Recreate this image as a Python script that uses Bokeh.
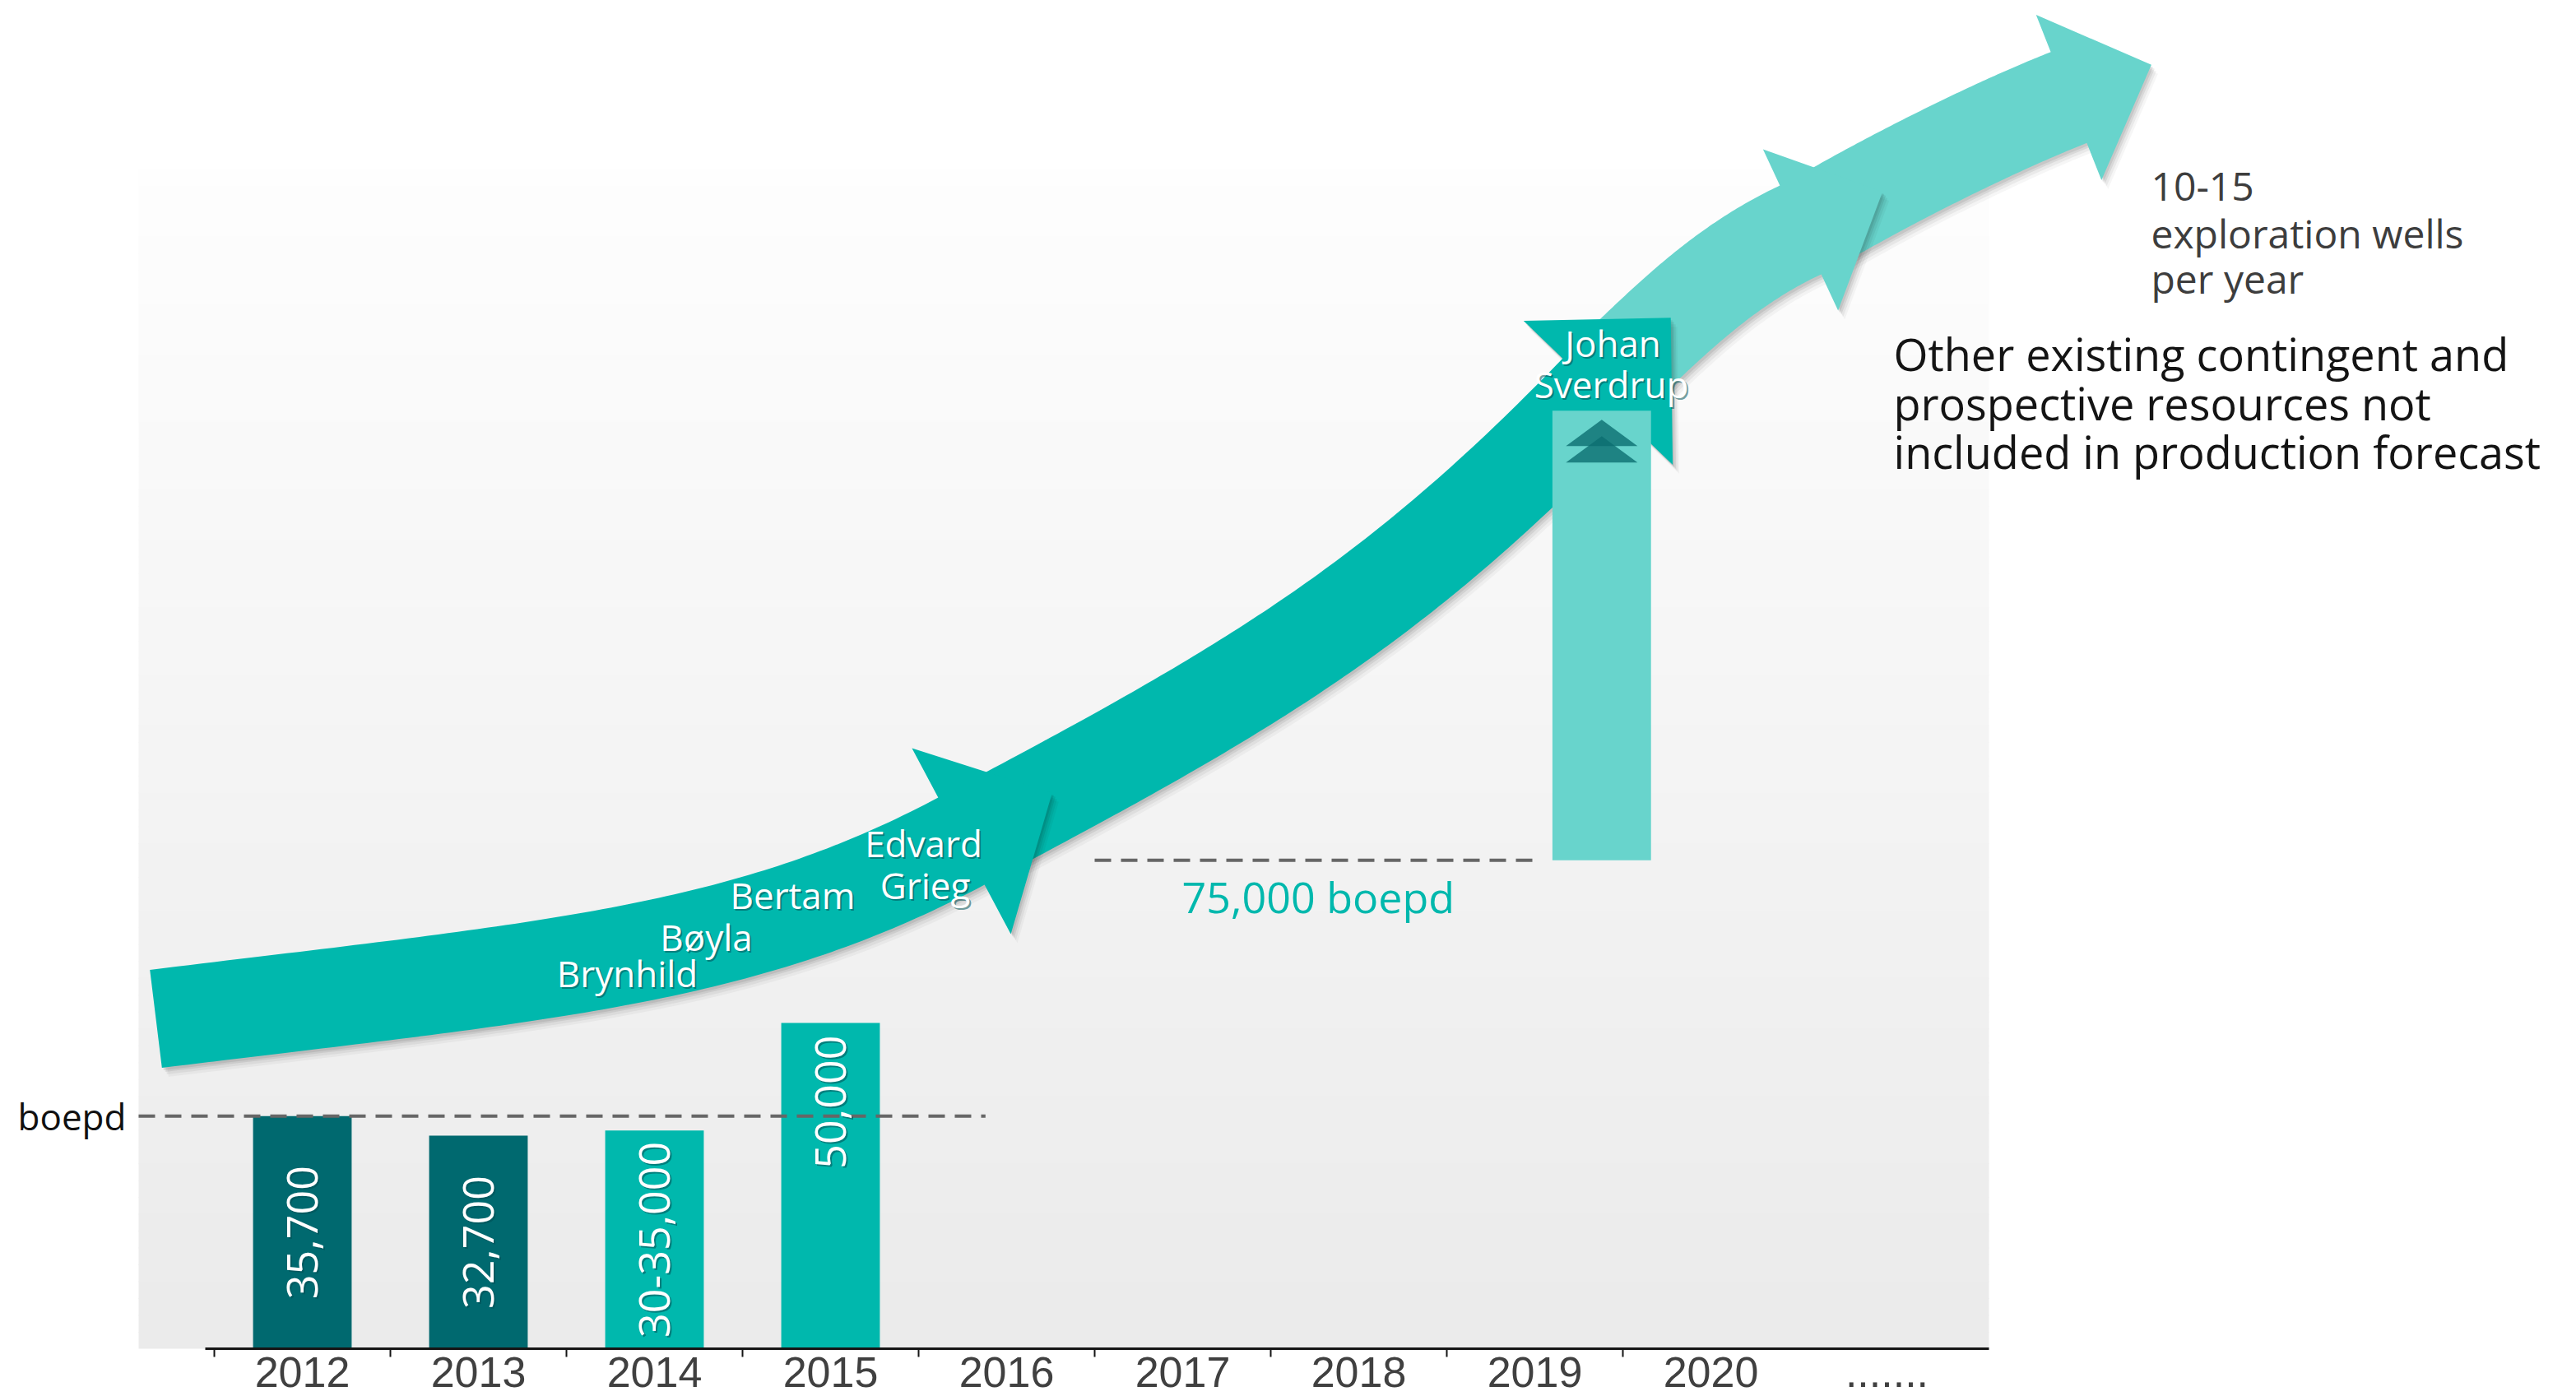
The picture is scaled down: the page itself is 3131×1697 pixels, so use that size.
import math
import numpy as np
from bokeh.plotting import figure
from bokeh.models import Range1d, LinearAxis, FixedTicker
from bokeh.core.properties import value
from bokeh.embed import file_html
from bokeh.resources import INLINE

# ------------------------------------------------------------------ data
tick_years = [2012, 2013, 2014, 2015, 2016, 2017, 2018, 2019, 2020, 2021]
tick_labels = ["2012", "2013", "2014", "2015", "2016", "2017", "2018", "2019", "2020", "......."]

bar_years = [2012, 2013, 2014, 2015]
bar_values = [35700, 32700, 33500, 50000]
bar_labels = ["35,700", "32,700", "30-35,000", "50,000"]
bar_status = ["actual", "actual", "guidance", "guidance"]

plateau_value = 75000
plateau_label = "75,000 boepd"
sverdrup_year = 2019
sverdrup_top = 144000

field_labels = ["Brynhild", "Bøyla", "Bertam", "Edvard", "Grieg"]
sverdrup_label = ["Johan", "Sverdrup"]
unit_label = "boepd"
wells_lines = ["10-15", "exploration wells", "per year"]
resource_lines = ["Other existing contingent and",
                  "prospective resources not",
                  "included in production forecast"]

# ------------------------------------------------------------------ layout / style
W, H = 3131, 1697
AXIS_PANEL = 58
FH = H - AXIS_PANEL        # canvas units spanning the frame height
X0_PX, SLOT_PX = 367, 214  # pixel of 2012 slot centre, slot width
Y_TOP = 207000

TEAL = "#00B8AD"
DARK = "#00696F"
LIGHT = "#68D4CC"
SHADOW = "#004F53"
DASH = "#666666"
FONT = "Open Sans"


def cx(x):
    return X0_PX + SLOT_PX * (x - 2012)


def cy(y):
    return FH - y * FH / Y_TOP


def ypx(px):  # pixel distance -> data units
    return px * Y_TOP / FH


def xpx(px):
    return px / SLOT_PX


x_start = 2012 - X0_PX / SLOT_PX
x_end = 2012 + (W - X0_PX) / SLOT_PX

p = figure(width=W, height=H, x_range=Range1d(x_start, x_end), y_range=Range1d(0, Y_TOP),
           x_axis_type=None, y_axis_type=None, toolbar_location=None, output_backend="svg",
           min_border=0, min_border_bottom=AXIS_PANEL, outline_line_color=None,
           background_fill_color="white", border_fill_color="white")
p.extra_x_ranges = {"cx": Range1d(0, W)}
p.extra_y_ranges = {"cy": Range1d(FH, 0)}
CV = dict(x_range_name="cx", y_range_name="cy")

# ---- x axis
ax = LinearAxis(ticker=FixedTicker(ticks=tick_years,
                                   minor_ticks=[y - 0.5 for y in tick_years[:-1]]))
ax.major_label_overrides = {t: lab for t, lab in zip(tick_years, tick_labels)}
ax.bounds = (2011.45, 2021.58)
ax.axis_line_color = "#151515"
ax.axis_line_width = 3
ax.major_tick_line_color = None
ax.major_tick_out = 0
ax.major_tick_in = 0
ax.minor_tick_line_color = "#151515"
ax.minor_tick_line_width = 2
ax.minor_tick_out = 10
ax.minor_tick_in = 0
ax.major_label_standoff = 0
ax.major_label_text_font = "Liberation Sans"
ax.major_label_text_font_size = "52px"
ax.major_label_text_color = "#404040"
p.add_layout(ax, "below")

# ---- plot-area gradient background
n = 70
edges = np.linspace(205, FH, n + 1)
shade = np.linspace(254, 235, n).astype(int)
cols = ["#%02x%02x%02x" % (s, s, s) for s in shade]
p.quad(left=168, right=2417, top=edges[:-1], bottom=edges[1:] + 1,
       fill_color=cols, line_color=None, **CV)


# ---- arrows
def arrow_poly(p0, a0, p3, a1, l0, l1, w, hh, hl, n=90):
    a0r, a1r = math.radians(a0), math.radians(a1)
    d0 = np.array([math.cos(a0r), -math.sin(a0r)])
    d1 = np.array([math.cos(a1r), -math.sin(a1r)])
    P0 = np.array(p0, float)
    P3 = np.array(p3, float)
    P1 = P0 + l0 * d0
    P2 = P3 - l1 * d1
    t = np.linspace(0, 1, n)[:, None]
    B = (1 - t) ** 3 * P0 + 3 * (1 - t) ** 2 * t * P1 + 3 * (1 - t) * t ** 2 * P2 + t ** 3 * P3
    D = 3 * (1 - t) ** 2 * (P1 - P0) + 6 * (1 - t) * t * (P2 - P1) + 3 * t ** 2 * (P3 - P2)
    D = D / np.linalg.norm(D, axis=1)[:, None]
    N = np.column_stack([D[:, 1], -D[:, 0]])
    up = B + w / 2 * N
    lo = B - w / 2 * N
    nE = np.array([d1[1], -d1[0]])
    tip = P3 + hl * d1
    bu = P3 + hh * nE
    bl = P3 - hh * nE
    xs = list(up[:, 0]) + [bu[0], tip[0], bl[0]] + list(lo[::-1, 0])
    ys = list(up[:, 1]) + [bu[1], tip[1], bl[1]] + list(lo[::-1, 1])
    return xs, ys


def draw_arrow(poly, color):
    xs, ys = poly
    for (ox, oy, al) in [(8, 11, 0.035), (6, 8, 0.05), (4, 5, 0.07), (2, 3, 0.08)]:
        p.patch([x + ox for x in xs], [y + oy for y in ys], fill_color="black",
                fill_alpha=al, line_color=None, **CV)
    p.patch(xs, ys, fill_color=color, line_color=None, **CV)


a4 = arrow_poly((2215, 265), 30, (2514, 118), 21.6, 100, 100, 119, 108, 108)
a3 = arrow_poly((1960, 455), 44, (2188, 279), 25, 100, 100, 119, 108, 110)
a2 = arrow_poly((1215, 997), 28, (1942, 477), 46, 350, 350, 120, 126, 127)
a1 = arrow_poly((189, 1238), 7, (1168, 1022), 28, 480, 300, 120, 128, 125)
draw_arrow(a4, LIGHT)
draw_arrow(a3, LIGHT)
draw_arrow(a2, TEAL)
draw_arrow(a1, TEAL)

# ---- production bars
bar_colors = [DARK if s == "actual" else TEAL for s in bar_status]
p.vbar(x=bar_years, top=bar_values, bottom=0, width=0.56, fill_color=bar_colors, line_color=None)

# ---- reference lines
p.line(x=[2011.07, 2015.88], y=[bar_values[0]] * 2, line_color=DASH,
       line_width=4, line_dash="20 12")
sv_x = sverdrup_year + 0.38
p.line(x=[2016.5, sv_x - 0.34], y=[plateau_value] * 2, line_color=DASH,
       line_width=4, line_dash="20 12")

# ---- Johan Sverdrup uplift bar
p.vbar(x=[sv_x], bottom=[plateau_value], top=[sverdrup_top], width=0.56,
       fill_color=LIGHT, line_color=None)
bx, by = cx(sv_x), cy(sverdrup_top)
for off in (11, 31):
    p.patch([bx - 43.5, bx, bx + 43.5], [by + off + 32, by + off, by + off + 32],
            fill_color="#0B6E70", fill_alpha=0.8, line_color=None, **CV)


# ---- white labels with a soft dark drop shadow
def shadow_text(xs, ys, texts, size, align, angle=0.0, canvas=True):
    kw = CV if canvas else {}
    sx = 2 if canvas else xpx(2)
    sy = 2 if canvas else -ypx(2)
    p.text(x=[x + sx for x in xs], y=[y + sy for y in ys], text=texts, angle=angle,
           text_align=align, text_baseline="middle", text_color=SHADOW, text_alpha=0.55,
           text_font=value(FONT), text_font_size=size, **kw)
    p.text(x=xs, y=ys, text=texts, angle=angle,
           text_align=align, text_baseline="middle", text_color="white",
           text_font=value(FONT), text_font_size=size, **kw)


# ---- bar value labels (rotated)
small = [i for i, v in enumerate(bar_values) if v < 40000]
big = [i for i, v in enumerate(bar_values) if v >= 40000]
shadow_text([bar_years[i] for i in small], [bar_values[i] / 2 for i in small],
            [bar_labels[i] for i in small], "52px", "center", math.pi / 2, canvas=False)
shadow_text([bar_years[i] for i in big], [bar_values[i] - ypx(15) for i in big],
            [bar_labels[i] for i in big], "52px", "right", math.pi / 2, canvas=False)

# ---- plateau label
p.text(x=[(2016.5 + sv_x - 0.34) / 2], y=[plateau_value - ypx(44)], text=[plateau_label],
       text_align="center", text_baseline="middle", text_color=TEAL,
       text_font=value(FONT), text_font_size="52px")

# ---- unit label (level of the dashed reference line)
p.text(x=[21], y=[bar_values[0]], text=[unit_label], text_align="left", text_baseline="middle",
       text_color="#111111", text_font=value(FONT), text_font_size="44px", x_range_name="cx")

# ---- field names on arrows
shadow_text([762, 858, 963, 1122, 1124], [1182, 1138, 1087, 1024, 1075], field_labels,
            "44px", "center")
shadow_text([1960, 1958], [416, 466], sverdrup_label, "44px", "center")

# ---- right-hand notes
p.text(x=[2614] * 3, y=[226, 283, 338], text=wells_lines, text_align="left",
       text_baseline="middle", text_color="#3d3d3d",
       text_font=value(FONT), text_font_size="48px", **CV)
p.text(x=[2301] * 3, y=[429, 489, 548], text=resource_lines, text_align="left",
       text_baseline="middle", text_color="#141414",
       text_font=value(FONT), text_font_size="54px", **CV)

open("out.html", "w").write(file_html(p, INLINE))
